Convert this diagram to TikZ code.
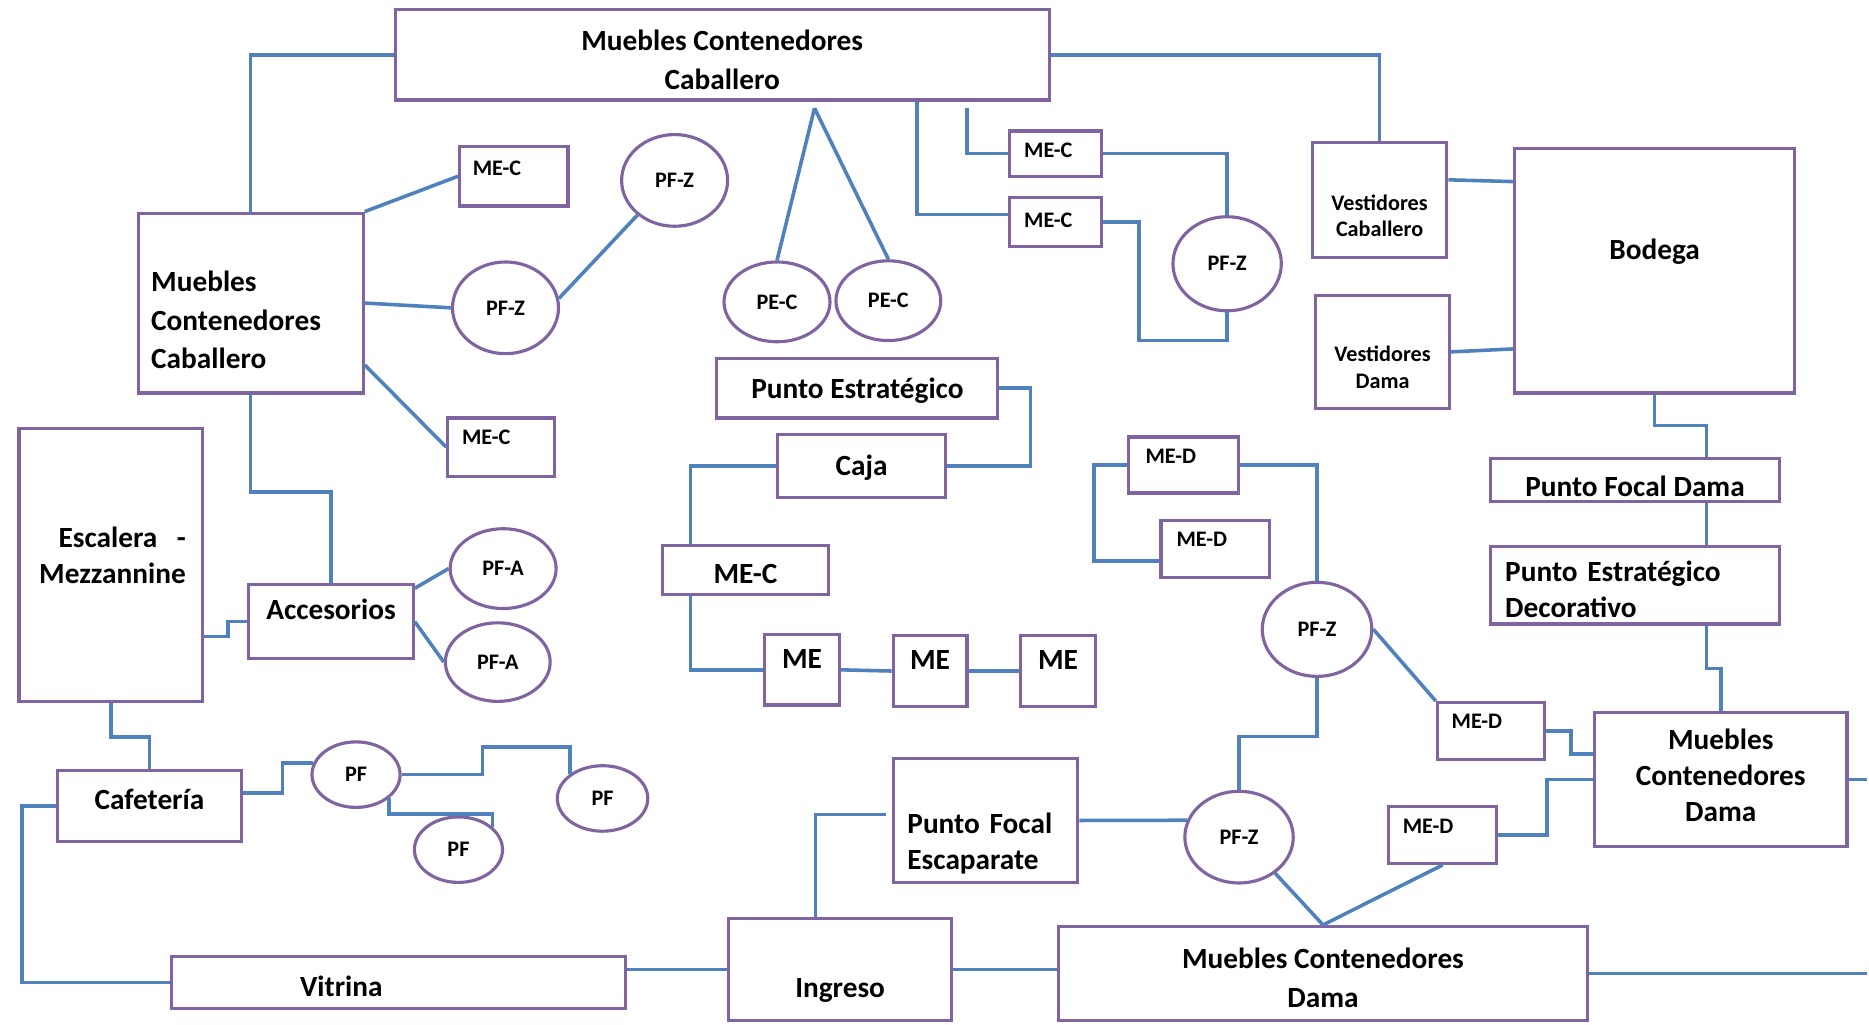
\documentclass[tikz,border=0pt]{standalone}
\usepackage{fontspec}
\setmainfont{Carlito}
\usetikzlibrary{shapes.geometric}
\definecolor{boxline}{HTML}{8064A2}
\definecolor{linkblue}{HTML}{4F81BD}
\begin{document}
\begin{tikzpicture}
[inner sep=0pt,
room/.style={rectangle, draw=boxline, line width=0.75pt, fill=white, font=\fontsize{7}{9.2}\selectfont\bfseries},
snug/.style={font=\fontsize{7}{8.6}\selectfont\bfseries},
tag/.style={room, font=\fontsize{5.3}{6.3}\selectfont\bfseries},
spot/.style={ellipse, draw=boxline, line width=0.75pt, fill=white, font=\fontsize{5.3}{6.3}\selectfont\bfseries},
link/.style={draw=linkblue, line width=0.85pt},
dims/.style 2 args={minimum width=#1cm, minimum height=#2cm},
txt/.style 2 args={text height=#1cm, text depth=#2cm}]
\fill[white] (0,0) rectangle (15.68,-8.60);
\coordinate (rim) at (15.68,0);

% zona caballero
\node[room, dims={5.49}{0.76}, txt={0.58}{0}, align=center] (topMCC) at (6.065,-0.46) {Muebles Contenedores\\Caballero};
\node[room, dims={1.89}{1.51}, txt={0}{0.19}, align=left, text width=1.67cm, inner xsep=0.11cm] (leftMCC) at (2.105,-2.545) {Muebles\\Contenedores\\Caballero};
\node[tag, dims={0.91}{0.50}, txt={0}{0.02}, align=left, text width=0.69cm, inner xsep=0.11cm] (meC1) at (4.315,-1.48) {ME-C};
\node[spot, dims={0.89}{0.77}] (pfZ1) at (5.665,-1.515) {PF-Z};
\node[spot, dims={0.89}{0.77}] (pfZ2) at (4.245,-2.585) {PF-Z};
\node[tag, dims={0.90}{0.49}, txt={0}{0.05}, align=left, text width=0.66cm, inner xsep=0.12cm] (meC2) at (4.21,-3.755) {ME-C};
\node[spot, dims={0.89}{0.67}] (peC1) at (6.525,-2.535) {PE-C};
\node[spot, dims={0.88}{0.67}] (peC2) at (7.46,-2.525) {PE-C};
\node[tag, dims={0.77}{0.38}, txt={0.06}{0}, align=left, text width=0.53cm, inner xsep=0.12cm] (meC3) at (8.865,-1.29) {ME-C};
\node[tag, dims={0.77}{0.41}, txt={0.09}{0}, align=left, text width=0.53cm, inner xsep=0.12cm] (meC4) at (8.865,-1.865) {ME-C};
\node[spot, dims={0.91}{0.79}] (pfZ3) at (10.305,-2.215) {PF-Z};
\node[tag, dims={1.13}{0.96}, txt={0.62}{0}, align=center] (vestC) at (11.585,-1.68) {Vestidores\\Caballero};
\node[tag, dims={1.12}{0.95}, txt={0.61}{0}, align=center] (vestD) at (11.61,-2.955) {Vestidores\\Dama};
\node[room, dims={2.35}{2.05}, txt={0}{0.19}] (bodega) at (13.895,-2.275) {Bodega};

% zona dama
\node[room, dims={2.42}{0.36}, txt={0.28}{0}] (pfDama) at (13.73,-4.03) {Punto Focal Dama};
\node[room, snug, dims={2.42}{0.65}, txt={0}{0.07}, align=left, text width=2.18cm, inner xsep=0.12cm] (peDeco) at (13.73,-4.915) {Punto Estratégico\\Decorativo};
\node[room, snug, dims={2.12}{1.13}, txt={0.71}{0}, align=center] (mcDamaR) at (14.45,-6.545) {Muebles\\Contenedores\\Dama};
\node[tag, dims={0.90}{0.48}, txt={0}{0.04}, align=left, text width=0.66cm, inner xsep=0.12cm] (meD1) at (12.52,-6.14) {ME-D};
\node[tag, dims={0.91}{0.48}, txt={0}{0.02}, align=left, text width=0.67cm, inner xsep=0.12cm] (meD2) at (12.115,-7.01) {ME-D};
\node[spot, dims={0.92}{0.79}] (pfZ4) at (11.06,-5.285) {PF-Z};
\node[spot, dims={0.91}{0.77}] (pfZ5) at (10.405,-7.03) {PF-Z};
\node[tag, dims={0.92}{0.47}, txt={0}{0.03}, align=left, text width=0.64cm, inner xsep=0.14cm] (meD3) at (9.94,-3.905) {ME-D};
\node[tag, dims={0.91}{0.48}, txt={0}{0.04}, align=left, text width=0.65cm, inner xsep=0.13cm] (meD4) at (10.205,-4.61) {ME-D};
\node[room, dims={4.44}{0.79}, txt={0.57}{0}, align=center] (mcDamaB) at (11.11,-8.175) {Muebles Contenedores\\Dama};

% ingreso y centro
\node[room, dims={1.87}{0.86}, txt={0.48}{0}] (ingreso) at (7.055,-8.14) {Ingreso};
\node[room, snug, dims={1.55}{1.04}, txt={0.22}{0}, align=left, text width=1.31cm, inner xsep=0.12cm] (pfEscap) at (8.275,-6.89) {Punto Focal\\Escaparate};
\node[room, dims={3.81}{0.44}, txt={0.24}{0}, align=left, text width=1.65cm, inner xsep=1.08cm] (vitrina) at (3.345,-8.25) {Vitrina};
\node[room, dims={2.36}{0.50}, txt={0.18}{0}] (puntoEst) at (7.20,-3.26) {Punto Estratégico};
\node[room, dims={1.41}{0.53}, txt={0.15}{0}] (caja) at (7.235,-3.915) {Caja};
\node[room, dims={1.40}{0.41}, txt={0.23}{0}] (meC5) at (6.26,-4.785) {ME-C};
\node[room, dims={0.63}{0.59}, txt={0}{0.03}] (me1) at (6.735,-5.625) {ME};
\node[room, dims={0.62}{0.59}, txt={0}{0.03}] (me2) at (7.81,-5.635) {ME};
\node[room, dims={0.63}{0.59}, txt={0}{0.03}] (me3) at (8.885,-5.635) {ME};

% escalera, cafeteria
\node[room, snug, dims={1.54}{2.29}, txt={0}{0.29}, align=right, text width=1.26cm, inner xsep=0.14cm] (escalera) at (0.93,-4.745) {Escalera\ \ -\\Mezzannine};
\node[room, dims={1.55}{0.60}, txt={0.06}{0}] (cafeteria) at (1.255,-6.77) {Cafetería};
\node[room, dims={1.38}{0.62}, txt={0}{0.04}] (accesorios) at (2.78,-5.22) {Accesorios};
\node[spot, dims={0.89}{0.67}] (pfA1) at (4.225,-4.775) {PF-A};
\node[spot, dims={0.88}{0.66}] (pfA2) at (4.18,-5.56) {PF-A};
\node[spot, dims={0.74}{0.55}] (pf1) at (2.99,-6.505) {PF};
\node[spot, dims={0.76}{0.55}] (pf2) at (5.06,-6.705) {PF};
\node[spot, dims={0.74}{0.55}] (pf3) at (3.85,-7.135) {PF};

\draw[link] (topMCC.west) -| (leftMCC.north);
\draw[link] (topMCC.east) -| (vestC.north);
\draw[link] ([xshift=0.775cm,yshift=-0.055cm]topMCC.south) -- (peC1.north);
\draw[link] ([xshift=0.775cm,yshift=-0.055cm]topMCC.south) -- (peC2.north);
\draw[link] ([xshift=1.635cm]topMCC.south) |- ([yshift=0.065cm]meC4.west);
\draw[link] ([xshift=2.055cm,yshift=-0.05cm]topMCC.south) |- (meC3.west);
\draw[link] (meC3.east) -| (pfZ3.north);
\draw[link] (meC4.east) -- ++(0.30,0) -- ++(0,-0.995) -| (pfZ3.south);
\draw[link] ([yshift=0.17cm]vestC.east) -- ([yshift=0.75cm]bodega.west);
\draw[link] (vestD.east) -- ([yshift=-0.655cm]bodega.west);
\draw[link] (bodega.south) -- ++(0,-0.26) -| ([xshift=0.60cm]pfDama.north);
\draw[link] ([xshift=0.60cm]pfDama.south) -- ([xshift=0.60cm]peDeco.north);
\draw[link] ([xshift=0.60cm]peDeco.south) -- ++(0,-0.36) -| (mcDamaR.north);
\draw[link] (meD1.east) -- ++(0.21,0) |- ([yshift=0.215cm]mcDamaR.west);
\draw[link] (meD2.east) -- ++(0.41,0) |- (mcDamaR.west);
\draw[link] (mcDamaR.east) -- (mcDamaR.east -| rim);
\draw[link] (mcDamaB.east) -- (mcDamaB.east -| rim);
\draw[link] (pfZ4.east) -- (meD1.north west);
\draw[link] (meD3.east) -| (pfZ4.north);
\draw[link] (meD3.west) -- ++(-0.28,0) |- ([yshift=-0.10cm]meD4.west);
\draw[link] (pfZ4.south) -- ++(0,-0.49) -| (pfZ5.north);
\draw[link] (pfZ5.-45) -- (mcDamaB.north);
\draw[link] (meD2.south) -- (mcDamaB.north);
\draw[link] (pfEscap.east) -- (pfZ5.162);
\draw[link] ([xshift=-0.205cm]ingreso.north) |- ([xshift=-0.05cm,yshift=0.05cm]pfEscap.west);
\draw[link] (ingreso.east) -- (ingreso.east -| mcDamaB.west);
\draw[link] (vitrina.east |- ingreso.west) -- (ingreso.west);
\draw[link] (vitrina.west) -- ++(-1.24,0) |- (cafeteria.west);
\draw[link] ([yshift=0.11cm]cafeteria.east) -- ++(0.33,0) |- (pf1.165);
\draw[link] (pf1.east) -- ++(0.68,0) -- ++(0,0.23) -| (pf2.143);
\draw[link] (pf1.-36) -- ++(0,-0.13) -| (pf3.34);
\draw[link] (escalera.south) -- ++(0,-0.285) -| (cafeteria.north);
\draw[link] ([yshift=-0.60cm]escalera.east) -- ++(0.20,0) |- (accesorios.west);
\draw[link] (leftMCC.south) -- ++(0,-0.82) -| (accesorios.north);
\draw[link] ([yshift=0.28cm]accesorios.east) -- (pfA1.west);
\draw[link] (accesorios.east) -- (pfA2.west);
\draw[link] (leftMCC.north east) -- (meC1.west);
\draw[link] (leftMCC.east) -- (pfZ2.west);
\draw[link] (pfZ2.10) -- (pfZ1.223);
\draw[link] ([yshift=-0.52cm]leftMCC.east) -- (meC2.west);
\draw[link] (puntoEst.east) -- ++(0.26,0) |- (caja.east);
\draw[link] (caja.west) -| ([xshift=-0.46cm]meC5.north);
\draw[link] ([xshift=-0.46cm]meC5.south) |- (me1.west);
\draw[link] (me1.east) -- (me2.west);
\draw[link] (me2.east) -- (me3.west);
\end{tikzpicture}
\end{document}
